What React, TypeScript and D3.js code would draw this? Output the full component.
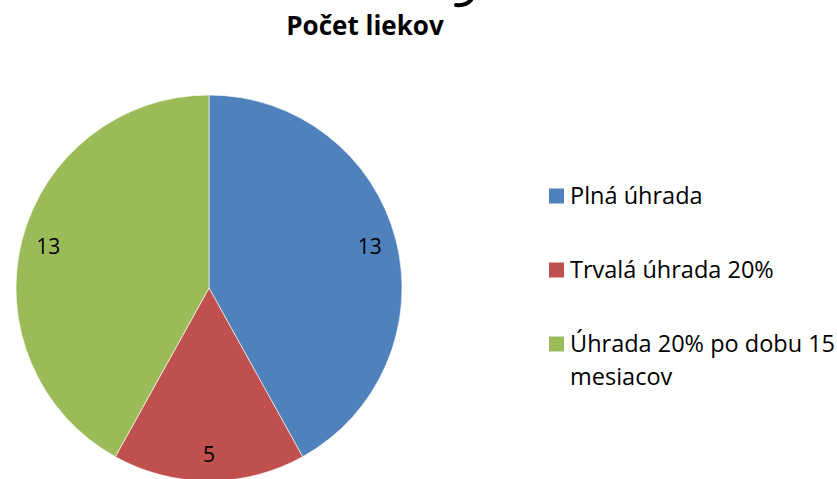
import React from "react";
import * as d3 from "d3";

const title = "Počet liekov";
const categories = ["Plná úhrada", "Trvalá úhrada 20%", "Úhrada 20% po dobu 15 mesiacov"];
const legendLines = [["Plná úhrada"], ["Trvalá úhrada 20%"], ["Úhrada 20% po dobu 15", "mesiacov"]];
const values = [13, 5, 13];
const colors = ["#4F81BD", "#C0504D", "#9BBB59"];

const W = 837;
const H = 479;
const FONT = "'Open Sans', Lato, sans-serif";

export default function App() {
  const cx = 209;
  const cy = 288;
  const r = 193;
  const pie = d3.pie<number>().sort(null).value((d) => d);
  const arcs = pie(values);
  const arc = d3.arc<d3.PieArcDatum<number>>().innerRadius(0).outerRadius(r);
  const labelArc = d3.arc<d3.PieArcDatum<number>>().innerRadius(166).outerRadius(166);

  const legendY = d3.scalePoint<number>().domain(d3.range(categories.length)).range([196, 344]);

  return (
    <svg width={W} height={H} style={{ position: "absolute", left: 0, top: 0, background: "#fff" }}>
      <rect width={W} height={H} fill="#fff" />
      {/* descender of a cut-off heading above the chart */}
      <path d="M471,0 Q466,6 456,5" fill="none" stroke="#000" strokeWidth={4} strokeLinecap="round" />
      <text x={365} y={35} fontFamily={FONT} fontWeight={700} fontSize={26} textAnchor="middle" fill="#000">{title}</text>
      <g transform={`translate(${cx},${cy})`}>
        {arcs.map((a, i) => (
          <path key={i} d={arc(a) || ""} fill={colors[i]} stroke="#ffffff" strokeWidth={0.6} />
        ))}
        {arcs.map((a, i) => {
          const [x, y] = labelArc.centroid(a);
          return (
            <text key={"l" + i} x={x} y={y} fontFamily={FONT} fontSize={21} textAnchor="middle" dominantBaseline="central" fill="#000">
              {values[i]}
            </text>
          );
        })}
      </g>
      <g>
        {categories.map((c, i) => {
          const y = legendY(i) as number;
          return (
            <g key={c}>
              <rect x={549} y={y - 7.5} width={15} height={15} fill={colors[i]} />
              <text x={570} y={y + 8} fontFamily={FONT} fontSize={23.5} fill="#000">
                {legendLines[i].map((ln, j) => (
                  <tspan key={j} x={570} dy={j === 0 ? 0 : 33}>{ln}</tspan>
                ))}
              </text>
            </g>
          );
        })}
      </g>
    </svg>
  );
}
